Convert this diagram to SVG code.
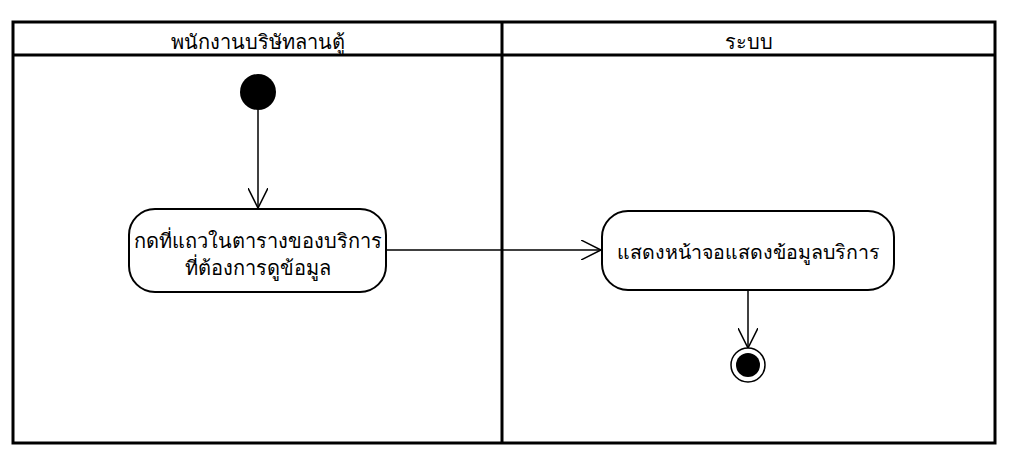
<svg xmlns="http://www.w3.org/2000/svg" width="1021" height="473" viewBox="0 0 1021 473">
  <style>
    text { font-family: "Noto Sans", "DejaVu Sans", sans-serif; fill: #000; text-anchor: middle; }
    .lane { fill: none; stroke: #000; stroke-width: 3; }
    .head { font-size: 20px; }
    .act { fill: #fff; stroke: #000; stroke-width: 2; }
    .label { font-size: 20px; }
    .flow { fill: none; stroke: #000; stroke-width: 1.5; }
  </style>
  <defs>
    <marker id="open-arrow" markerWidth="24" markerHeight="20" refX="20" refY="10" orient="auto" markerUnits="userSpaceOnUse">
      <path d="M0,0 L20,10 L0,20" fill="none" stroke="#000" stroke-width="1.5"/>
    </marker>
  </defs>

  <rect width="1021" height="473" fill="#fff"/>

  <!-- swimlanes -->
  <g id="swimlanes">
    <rect class="lane" x="13" y="22" width="982" height="421"/>
    <line class="lane" x1="13" y1="55" x2="995" y2="55"/>
    <line class="lane" x1="502" y1="22" x2="502" y2="443"/>
    <text class="head" x="258" y="49">พนักงานบริษัทลานตู้</text>
    <text class="head" x="749" y="49">ระบบ</text>
  </g>

  <!-- connectors -->
  <g id="connectors">
    <line class="flow" x1="258" y1="110" x2="258" y2="208" marker-end="url(#open-arrow)"/>
    <line class="flow" x1="386" y1="250" x2="601" y2="250" marker-end="url(#open-arrow)"/>
    <line class="flow" x1="748" y1="290" x2="748" y2="348" marker-end="url(#open-arrow)"/>
  </g>

  <g id="start">
    <circle cx="258" cy="92" r="18" fill="#000"/>
  </g>

  <g id="select-row">
    <rect class="act" x="129" y="209" width="257" height="83" rx="26"/>
    <text class="label" x="258" y="248">กดที่แถวในตารางของบริการ</text>
    <text class="label" x="258" y="275">ที่ต้องการดูข้อมูล</text>
  </g>

  <g id="show-detail">
    <rect class="act" x="602" y="211" width="292" height="79" rx="26"/>
    <text class="label" x="748" y="259" style="font-size:19.6px">แสดงหน้าจอแสดงข้อมูลบริการ</text>
  </g>

  <g id="end">
    <circle cx="748" cy="365" r="17" fill="#fff" stroke="#000" stroke-width="1.5"/>
    <circle cx="748" cy="365" r="12" fill="#000"/>
  </g>
</svg>
